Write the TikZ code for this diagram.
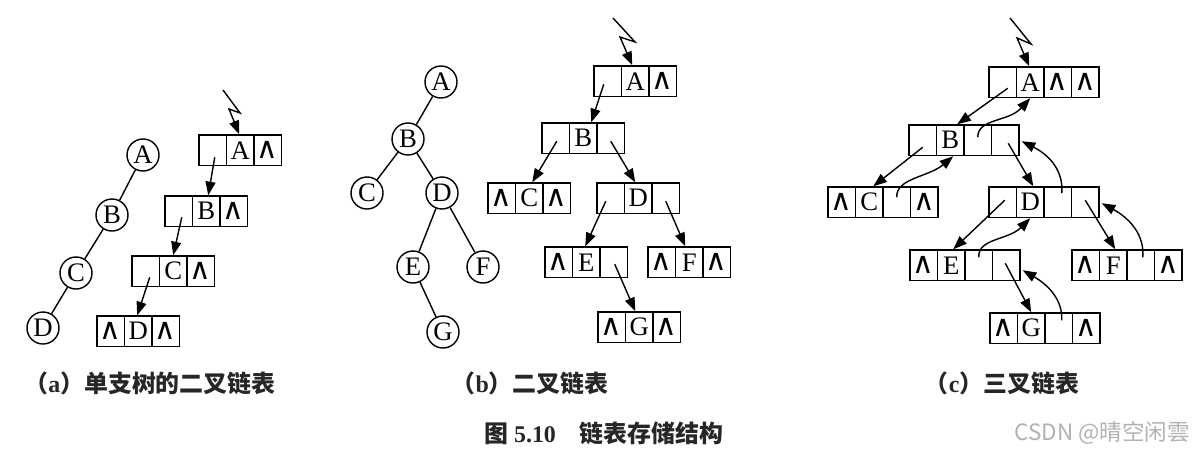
\documentclass[tikz,border=0pt]{standalone}
\usepackage{fontspec}
\setmainfont{Liberation Serif}
\newfontfamily\cjk{Noto Sans CJK SC}
\newfontfamily\symf{DejaVu Sans}
\usetikzlibrary{arrows.meta}
\newcommand{\mkrec}[4]{%
  \foreach \c [count=\i] in {#4}{%
    \node[cell] (#1-\i) at ({#2+13.75+27.5*(\i-1)},{#3+15.25}) {\c};}}
\newcommand{\nil}{{\symf\fontsize{21}{22}\selectfont ∧}}
\begin{document}
\begin{tikzpicture}[x=0.025cm,y=-0.025cm,
  cell/.style={draw, line width=1pt, minimum width=0.6875cm, minimum height=0.7625cm, inner sep=0pt, font=\fontsize{19}{21}\selectfont},
  tnode/.style={circle, draw, line width=1pt, minimum size=0.8cm, inner sep=0pt, font=\fontsize{19}{21}\selectfont},
  tedge/.style={line width=1pt},
  ptr/.style={line width=1pt, -{Triangle[length=0.34cm,width=0.25cm]}},
  zig/.style={line width=1pt, line join=miter, -{Triangle[length=0.34cm,width=0.25cm]}},
  captext/.style={font=\cjk\bfseries\fontsize{17}{20}\selectfont, inner sep=0pt, text=black!85},
  wmark/.style={font=\cjk\fontsize{16}{19}\selectfont, text=black!30, inner sep=0pt}
]
\useasboundingbox[fill=white] (0,0) rectangle (1200,453);

% ---------- (a) ----------
\node[tnode] (ta) at (143,155) {A};
\node[tnode] (tb) at (112,215) {B};
\node[tnode] (tc) at (76,273) {C};
\node[tnode] (td) at (43,328) {D};
\draw[tedge] (ta) -- (tb) (tb) -- (tc) (tc) -- (td);

\mkrec{aA}{199}{135}{{},A,\nil}
\mkrec{aB}{165}{196}{{},B,\nil}
\mkrec{aC}{132}{256}{{},C,\nil}
\mkrec{aD}{97}{316}{\nil,D,\nil}

\coordinate (za) at (223,90);
\draw[zig] (za) -- (240,113) -- (229,109) -- ([shift={(-1,0)}]aA-2.north);
\coordinate (sa1) at ([shift={(2,7)}]aA-1.center);
\coordinate (sa2) at ([shift={(3,6)}]aB-1.center);
\coordinate (sa3) at ([shift={(4,6)}]aC-1.center);
\draw[ptr] (sa1) -- ([shift={(2,0)}]aB-2.north);
\draw[ptr] (sa2) -- (aC-2.north);
\draw[ptr] (sa3) -- ([shift={(-1,0)}]aD-2.north);

% ---------- (b) ----------
\node[tnode] (ua) at (441,82) {A};
\node[tnode] (ub) at (408,139) {B};
\node[tnode] (uc) at (367,193) {C};
\node[tnode] (ud) at (442,193) {D};
\node[tnode] (ue) at (413,267) {E};
\node[tnode] (uf) at (483,267) {F};
\node[tnode] (ug) at (443,332) {G};
\draw[tedge] (ua) -- (ub) (ub) -- (uc) (ub) -- (ud) (ud) -- (ue) (ud) -- (uf) (ue) -- (ug);

\mkrec{bA}{594}{66}{{},A,\nil}
\mkrec{bB}{542}{123}{{},B,{}}
\mkrec{bC}{488}{183}{\nil,C,\nil}
\mkrec{bD}{597}{183}{{},D,{}}
\mkrec{bE}{545}{247}{\nil,E,{}}
\mkrec{bF}{648}{247}{\nil,F,\nil}
\mkrec{bG}{598}{312}{\nil,G,\nil}

\coordinate (zb) at (613,18);
\draw[zig] (zb) -- (635,42) -- (620,37) -- ([shift={(-3,0)}]bA-2.north);
\coordinate (sb1) at ([shift={(-4,3)}]bA-1.center);
\coordinate (sb2) at ([shift={(1,3)}]bB-1.center);
\coordinate (sb3) at ([shift={(0,3)}]bB-3.center);
\coordinate (sb4) at ([shift={(-5,3)}]bD-1.center);
\coordinate (sb5) at ([shift={(0,3)}]bD-3.center);
\coordinate (sb6) at ([shift={(1,2)}]bE-3.center);
\draw[ptr] (sb1) -- ([shift={(8,0)}]bB-2.north);
\draw[ptr] (sb2) -- ([shift={(3,0)}]bC-2.north);
\draw[ptr] (sb3) -- ([shift={(-3,0)}]bD-2.north);
\draw[ptr] (sb4) -- ([shift={(-1,0)}]bE-2.north);
\draw[ptr] (sb5) -- ([shift={(-4,0)}]bF-2.north);
\draw[ptr] (sb6) -- ([shift={(-4,0)}]bG-2.north);

% ---------- (c) ----------
\mkrec{cA}{989}{67}{{},A,\nil,\nil}
\mkrec{cB}{909}{125}{{},B,{},{}}
\mkrec{cC}{828}{187}{\nil,C,{},\nil}
\mkrec{cD}{989}{187}{{},D,{},{}}
\mkrec{cE}{910}{250}{\nil,E,{},{}}
\mkrec{cF}{1072}{250}{\nil,F,{},\nil}
\mkrec{cG}{990}{313}{\nil,G,{},\nil}

\coordinate (zc) at (1010,18);
\draw[zig] (zc) -- (1031,44) -- (1017,38) -- ([shift={(-1,0)}]cA-2.north);

% child pointers
\coordinate (sc1) at ([shift={(5,6)}]cA-1.center);
\coordinate (sc2) at ([shift={(0,7)}]cB-1.center);
\coordinate (sc3) at ([shift={(3,3)}]cB-4.center);
\coordinate (sc4) at ([shift={(2,-2)}]cD-1.center);
\coordinate (sc5) at ([shift={(0,-2)}]cD-4.center);
\coordinate (sc6) at ([shift={(-1,-2)}]cE-4.center);
\draw[ptr] (sc1) -- ([shift={(7,0)}]cB-2.north);
\draw[ptr] (sc2) -- ([shift={(4,0)}]cC-2.north);
\draw[ptr] (sc3) -- ([shift={(3,0)}]cD-2.north);
\draw[ptr] (sc4) -- ([shift={(2,0)}]cE-2.north);
\draw[ptr] (sc5) -- ([shift={(2,0)}]cF-2.north);
\draw[ptr] (sc6) -- (cG-2.north);

% parent pointers
\coordinate (pc1) at ([shift={(0,-3)}]cB-3.center);
\coordinate (pc2) at ([shift={(0,-5)}]cC-3.center);
\coordinate (pc3) at ([shift={(4,-9)}]cD-3.center);
\coordinate (pc4) at ([shift={(0,-8)}]cE-3.center);
\coordinate (pc5) at ([shift={(2,-8)}]cF-3.center);
\coordinate (pc6) at ([shift={(3,-8)}]cG-3.center);
\draw[ptr] (pc1) .. controls ([shift={(0,-19)}]pc1) and ([shift={(-22,24)}]cA-2.south) .. (cA-2.south);
\draw[ptr] (pc2) .. controls ([shift={(-1,-19)}]pc2) and ([shift={(-22,21)}]cB-2.south) .. ([shift={(3,0)}]cB-2.south);
\draw[ptr] (pc3) .. controls ([shift={(2,-22)}]pc3) and ([shift={(30,15)}]cB-4.east) .. ([shift={(2,1)}]cB-4.east);
\draw[ptr] (pc4) .. controls ([shift={(-1,-19)}]pc4) and ([shift={(-22,22)}]cD-2.south) .. (cD-2.south);
\draw[ptr] (pc5) .. controls ([shift={(2,-22)}]pc5) and ([shift={(30,16)}]cD-4.east) .. ([shift={(2,1)}]cD-4.east);
\draw[ptr] (pc6) .. controls ([shift={(1,-20)}]pc6) and ([shift={(28,20)}]cE-4.east) .. ([shift={(2,5)}]cE-4.east);

% ---------- captions ----------
\node[captext] (capa) at (150,383) {（{\rmfamily\bfseries a}）单支树的二叉链表};
\node[captext] (capb) at (530,383) {（{\rmfamily\bfseries b}）二叉链表};
\node[captext] (capc) at (1002,383) {（{\rmfamily\bfseries c}）三叉链表};
\node[captext] (capm) at (604,433) {图 {\rmfamily\bfseries 5.10}\quad 链表存储结构};
\node[wmark] (wm) at (1102,433) {CSDN @晴空闲雲};
\end{tikzpicture}
\end{document}
